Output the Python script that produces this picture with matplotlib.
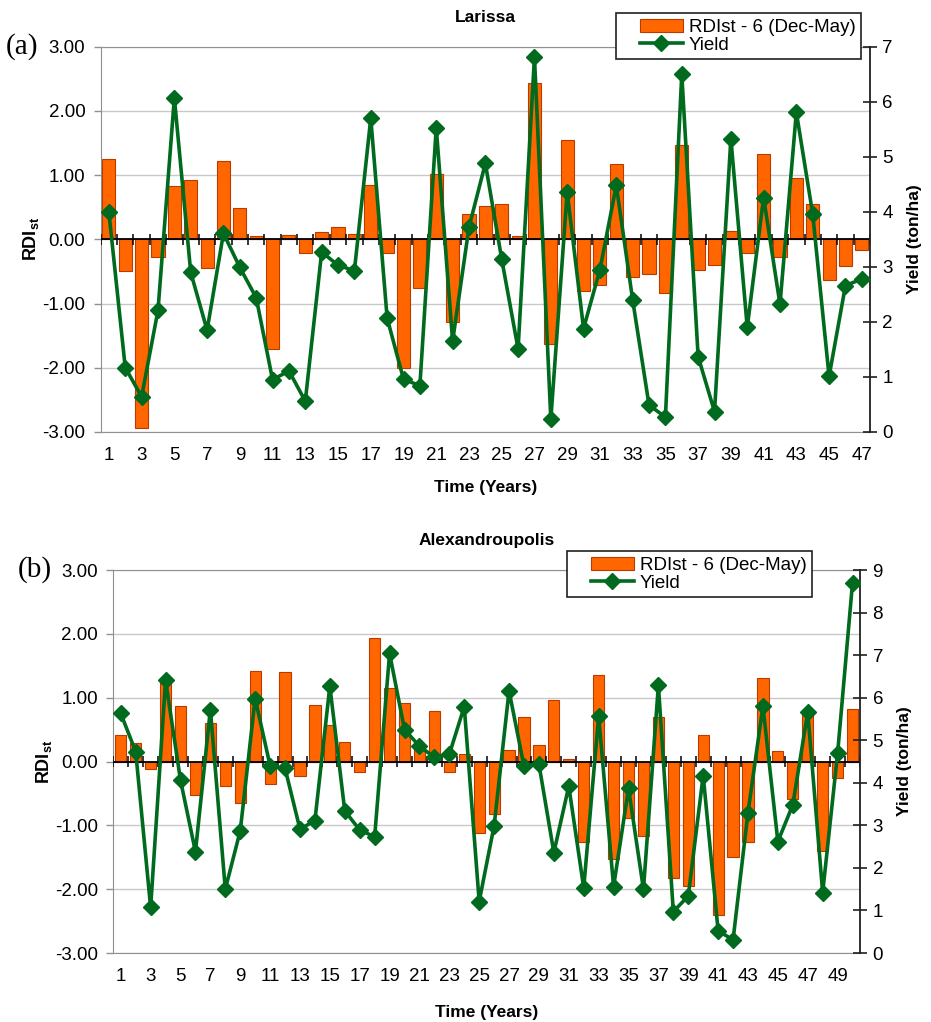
import matplotlib
matplotlib.use('Agg')
import matplotlib.pyplot as plt
import numpy as np
from matplotlib.patches import Patch
from matplotlib.lines import Line2D
from matplotlib.legend_handler import HandlerPatch, HandlerLine2D

plt.rcParams['font.family'] = ['Liberation Sans', 'DejaVu Sans']
plt.rcParams['mathtext.fontset'] = 'custom'
plt.rcParams['mathtext.rm'] = 'Liberation Sans'
plt.rcParams['mathtext.bf'] = 'Liberation Sans:bold'

# Larissa
larissa_rdi = [1.25, -0.49, -2.93, -0.27, 0.83, 0.92, -0.45, 1.22, 0.49, 0.05,
               -1.71, 0.07, -0.21, 0.11, 0.20, 0.09, 0.85, -0.22, -2.01, -0.75,
               1.02, -1.28, 0.39, 0.52, 0.55, 0.05, 2.43, -1.63, 1.55, -0.80,
               -0.71, 1.18, -0.58, -0.54, -0.84, 1.47, -0.48, -0.40, 0.13, -0.21,
               1.33, -0.27, 0.96, 0.55, -0.63, -0.41, -0.17]
larissa_yield = [3.99, 1.17, 0.64, 2.21, 6.07, 2.90, 1.85, 3.61, 2.99, 2.44,
                 0.95, 1.11, 0.56, 3.27, 3.03, 2.93, 5.70, 2.07, 0.96, 0.84,
                 5.53, 1.65, 3.72, 4.88, 3.14, 1.51, 6.81, 0.23, 4.36, 1.88,
                 2.95, 4.48, 2.40, 0.49, 0.27, 6.50, 1.37, 0.37, 5.33, 1.90,
                 4.26, 2.32, 5.81, 3.96, 1.01, 2.66, 2.78]

# Alexandroupolis
alex_rdi = [0.42, 0.29, -0.12, 1.25, 0.87, -0.52, 0.60, -0.39, -0.65, 1.42,
            -0.35, 1.40, -0.22, 0.89, 0.57, 0.30, -0.16, 1.93, 1.15, 0.92,
            0.18, 0.79, -0.16, 0.11, -1.12, -0.82, 0.18, 0.70, 0.26, 0.96,
            0.04, -1.26, 1.35, -1.52, -0.89, -1.16, 0.70, -1.83, -1.95, 0.42,
            -2.41, -1.49, -1.26, 1.31, 0.17, -0.58, 0.77, -1.40, -0.26, 0.82]
alex_yield = [5.63, 4.73, 1.07, 6.41, 4.06, 2.38, 5.72, 1.50, 2.87, 5.98,
              4.40, 4.34, 2.91, 3.11, 6.27, 3.34, 2.89, 2.73, 7.04, 5.25,
              4.86, 4.60, 4.67, 5.79, 1.21, 2.99, 6.16, 4.39, 4.44, 2.36,
              3.92, 1.53, 5.57, 1.56, 3.87, 1.50, 6.29, 0.97, 1.34, 4.17,
              0.52, 0.31, 3.30, 5.80, 2.62, 3.48, 5.66, 1.42, 4.69, 8.70]

BAR_C = '#FF6600'
BAR_E = '#B83C00'
LINE_C = '#006A1E'

W, H = 931, 1022
fig = plt.figure(figsize=(W / 100, H / 100), dpi=100)


def panel(rect, rdi, yld, ymax_r, title, tag, leg_box, barw, xlab_pad):
    ax = fig.add_axes(rect)
    n = len(rdi)
    x = np.arange(1, n + 1)
    ax.bar(x, rdi, width=barw, color=BAR_C, edgecolor=BAR_E, linewidth=0.8, zorder=2)
    ax.axhline(0, color='black', lw=1.3, zorder=3)
    ax.vlines(np.arange(0.5, n + 1), -0.09, 0.09, color='black', lw=1.1, zorder=3)
    ax.set_xlim(0.5, n + 0.5)
    ax.set_ylim(-3, 3)
    ax.set_yticks(np.arange(-3, 4, 1))
    ax.set_yticklabels(['%.2f' % v for v in np.arange(-3, 4, 1)])
    ax.grid(axis='y', color='#C8C8C8', lw=1.0, zorder=0)
    ax.set_xticks(x[::2])
    ax.tick_params(axis='x', length=0, pad=11, labelsize=13.5)
    ax.tick_params(axis='y', length=5, width=1, color='#909090', pad=6, labelsize=13.5)
    for s in ['left', 'top', 'bottom']:
        ax.spines[s].set_color('#909090')
    ax.spines['right'].set_visible(False)
    ax.set_ylabel(r'$\mathbf{RDI}_{\mathbf{st}}$', fontsize=13, labelpad=1)
    ax.set_xlabel('Time (Years)', fontsize=12.5, fontweight='bold', labelpad=xlab_pad)
    ax.set_title(title, fontsize=12.5, fontweight='bold', pad=18)

    ax2 = ax.twinx()
    ax2.plot(x, yld, color=LINE_C, lw=2.6, marker='D', markersize=8.5, zorder=5)
    ax2.set_ylim(0, ymax_r)
    ax2.set_yticks(np.arange(0, ymax_r + 1, 1))
    ax2.tick_params(axis='y', direction='inout', length=10, width=1.2, color='#202020',
                    pad=4, labelsize=13.5)
    for s in ['left', 'top', 'bottom']:
        ax2.spines[s].set_visible(False)
    ax2.spines['right'].set_color('#202020')
    ax2.spines['right'].set_linewidth(1.3)
    ax2.set_ylabel('Yield (ton/ha)', fontsize=12.5, fontweight='bold', labelpad=10)

    bar_h = Patch(facecolor=BAR_C, edgecolor=BAR_E, linewidth=0.8)
    line_h = Line2D([0], [0], color=LINE_C, lw=2.6, marker='D', markersize=8.5)
    leg = fig.legend([bar_h, line_h], ['RDIst - 6 (Dec-May)', 'Yield'],
                     loc='upper right', bbox_to_anchor=leg_box,
                     bbox_transform=fig.transFigure, fontsize=13.5,
                     frameon=True, fancybox=False, framealpha=1,
                     edgecolor='#202020', borderpad=0.3, labelspacing=0.05,
                     handlelength=3.3, handleheight=0.7, handletextpad=0.3,
                     borderaxespad=0,
                     handler_map={bar_h: HandlerPatch(xpad=1.0),
                                  line_h: HandlerLine2D(xpad=1.0)})
    leg.get_frame().set_linewidth(1.2)
    leg.set_zorder(10)

    fig.text(rect[0] - 0.1025, rect[1] + rect[3], tag, fontsize=21,
             family='Liberation Serif', ha='left', va='center')
    return ax, ax2


panel([100.7 / W, 1 - 432 / H, (870 - 100.7) / W, (432 - 46.7) / H],
      larissa_rdi, larissa_yield, 7, 'Larissa', '(a)',
      (861 / W, 1 - 13 / H), 0.8, 11)
panel([113.3 / W, 1 - 953 / H, (860 - 113.3) / W, (953 - 570) / H],
      alex_rdi, alex_yield, 9, 'Alexandroupolis', '(b)',
      (812 / W, 1 - 551 / H), 0.75, 14)

fig.savefig('out.png', dpi=100)
